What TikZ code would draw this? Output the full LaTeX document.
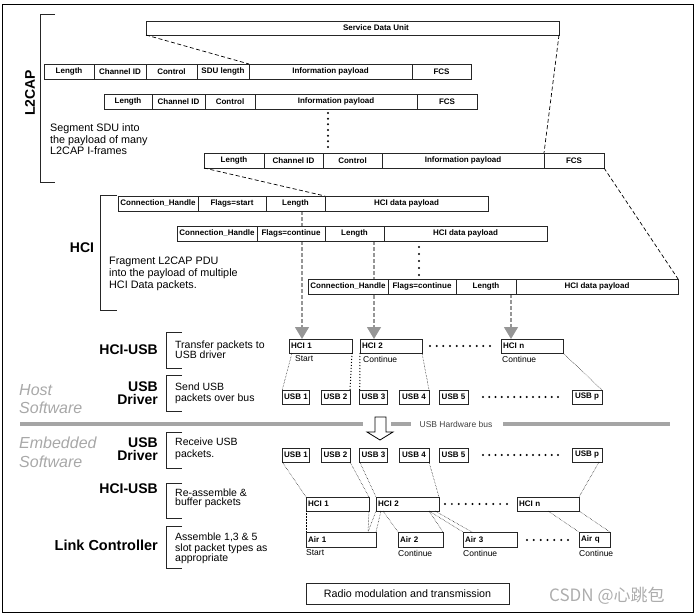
\documentclass[tikz,border=0pt]{standalone}
\usepackage{fontspec}
\setmainfont{Liberation Sans}
\newfontfamily\cjkfont{Noto Sans CJK SC}
\usetikzlibrary{arrows.meta}
\pgfdeclarelayer{back}
\pgfsetlayers{back,main}
\definecolor{busgray}{RGB}{165,165,165}
\definecolor{softgray}{RGB}{168,168,168}
\definecolor{arrgray}{RGB}{150,150,150}
\tikzset{
  cell/.style={draw=black!85, line width=0.9pt, inner xsep=2pt, inner ysep=0pt, outer sep=0pt,
    font=\bfseries\fontsize{8}{9}\selectfont, align=center, fill=white},
  lcell/.style={cell, align=left},
  desc/.style={anchor=west, inner sep=0pt, align=left},
  layer/.style={anchor=east, inner sep=0pt, align=right},
  soft/.style={anchor=west, inner sep=0pt, align=left, text=softgray},
  small/.style={anchor=west, inner sep=0pt, font=\fontsize{8.5}{9}\selectfont},
  bracket/.style={line width=0.9pt, black!85},
  mapline/.style={dash pattern=on 4pt off 2.5pt, line width=0.7pt},
  garrow/.style={draw=arrgray, line width=1.2pt, dash pattern=on 4pt off 2pt,
    -{Triangle[width=14pt,length=12pt,fill=arrgray]}},
  fine/.style={densely dotted, line width=0.5pt},
  thickdot/.style={dotted, line width=1pt},
  busline/.style={busgray, line width=3.5pt},
}
% centred cell
\newcommand\bx[6]{%
  \pgfmathsetmacro\bxw{#4-#2}\pgfmathsetmacro\bxh{#5-#3}%
  \pgfmathsetmacro\bxx{(#2+#4)/2}\pgfmathsetmacro\bxy{(#3+#5)/2}%
  \node[cell, minimum width=\bxw pt, minimum height=\bxh pt] (#1) at (\bxx,\bxy) {#6};}
% left-aligned cell
\newcommand\lbx[6]{%
  \pgfmathsetmacro\bxw{#4-#2}\pgfmathsetmacro\bxh{#5-#3}%
  \pgfmathsetmacro\bxt{#4-#2-4}%
  \pgfmathsetmacro\bxx{(#2+#4)/2}\pgfmathsetmacro\bxy{(#3+#5)/2}%
  \node[lcell, minimum width=\bxw pt, minimum height=\bxh pt, text width=\bxt pt] (#1) at (\bxx,\bxy) {#6};}
\newcommand\dotrow[4]{\foreach \i in {0,...,#4}{\fill ({#1+(#2-#1)*\i/#4},#3) circle (1.1pt);}}
\newcommand\dotcol[4]{\foreach \i in {0,...,#4}{\fill (#1,{#2+(#3-#2)*\i/#4}) circle (1.1pt);}}
\begin{document}
\begin{tikzpicture}[x=1pt,y=-1pt]
\useasboundingbox (0,0) rectangle (696,615);
\draw[line width=1pt] (2,5) rectangle (693,612);

% ---------------- L2CAP ----------------
\draw[bracket] (55,14) -- (40,14) -- (40,182) -- (55,182);
\node[rotate=90, inner sep=0pt, font=\bfseries\fontsize{14}{16}\selectfont] (l2caplabel) at (30,93) {L2CAP};
\node[desc, font=\fontsize{10.8}{11.5}\selectfont] (segtext) at (50,139.5) {Segment SDU into\\the payload of many\\L2CAP I-frames};

\bx{sdu}{146}{21}{559}{35}{}
\node[inner sep=0pt, font=\bfseries\fontsize{8}{9}\selectfont] (sdutext) at (376,28) {Service Data Unit};

\bx{r1len}{44}{64}{94}{79}{Length}
\bx{r1cid}{94}{64}{146}{79}{Channel ID}
\bx{r1ctl}{146}{64}{197}{79}{Control}
\bx{r1sdul}{197}{64}{249}{79}{SDU length}
\bx{r1info}{249}{64}{412}{79}{Information payload}
\bx{r1fcs}{412}{64}{471}{79}{FCS}

\bx{r2len}{104}{94}{152}{109}{Length}
\bx{r2cid}{152}{94}{205}{109}{Channel ID}
\bx{r2ctl}{205}{94}{255}{109}{Control}
\bx{r2info}{255}{94}{417}{109}{Information payload}
\bx{r2fcs}{417}{94}{477}{109}{FCS}

\dotcol{328}{113}{147}{6}

\bx{r3len}{204}{153}{264}{168}{Length}
\bx{r3cid}{264}{153}{323}{168}{Channel ID}
\bx{r3ctl}{323}{153}{382}{168}{Control}
\bx{r3info}{382}{153}{544}{168}{Information payload}
\bx{r3fcs}{544}{153}{604}{168}{FCS}

% ---------------- HCI ----------------
\draw[bracket] (117,195) -- (100,195) -- (100,310) -- (117,310);
\node[inner sep=0pt, font=\bfseries\fontsize{14}{16}\selectfont] (hcilabel) at (82,248) {HCI};
\node[desc, font=\fontsize{10.8}{12}\selectfont] (fragtext) at (109,274) {Fragment L2CAP PDU\\into the payload of multiple\\HCI Data packets.};

\bx{hr1ch}{118}{196}{198}{211}{Connection\_Handle}
\bx{hr1fl}{198}{196}{266}{211}{Flags=start}
\bx{hr1len}{266}{196}{325}{211}{Length}
\bx{hr1pay}{325}{196}{488}{211}{HCI data payload}

\bx{hr2ch}{177}{226}{257}{241}{Connection\_Handle}
\bx{hr2fl}{257}{226}{325}{241}{Flags=continue}
\bx{hr2len}{325}{226}{384}{241}{Length}
\bx{hr2pay}{384}{226}{547}{241}{HCI data payload}

\dotcol{419}{247}{275}{4}

\bx{hr3ch}{308}{279}{388}{294}{Connection\_Handle}
\bx{hr3fl}{388}{279}{456}{294}{Flags=continue}
\bx{hr3len}{456}{279}{516}{294}{Length}
\bx{hr3pay}{516}{279}{678}{294}{HCI data payload}

% mapping lines
\draw[mapline] (sdu.south west) -- (r1info.north west);
\draw[mapline] (sdu.south east) -- (r3info.north east);
\draw[mapline] (r3len.south west) -- (hr1pay.north west);
\draw[mapline] (r3fcs.south east) -- (hr3pay.north east);

% ---------------- Host ----------------
\node[layer, font=\bfseries\fontsize{14}{16}\selectfont] (hciusbh) at (158,350) {HCI-USB};
\draw[bracket] (182,332) -- (166,332) -- (166,368) -- (182,368);
\node[desc, font=\fontsize{10.5}{10}\selectfont] (transtext) at (175,350) {Transfer packets to\\USB driver};

\node[layer, font=\bfseries\fontsize{14}{12.5}\selectfont] (usbdrvh) at (158,393) {USB\\Driver};
\draw[bracket] (182,375) -- (166,375) -- (166,411) -- (182,411);
\node[desc, font=\fontsize{10.5}{11}\selectfont] (sendtext) at (175,393.5) {Send USB\\packets over bus};

\node[soft, font=\itshape\fontsize{16}{18}\selectfont] (hostsw) at (19,399) {Host\\Software};

\lbx{hci1h}{289}{339}{352}{353}{HCI 1}
\lbx{hci2h}{360}{339}{422}{353}{HCI 2}
\lbx{hcinh}{501}{339}{563}{353}{HCI n}
\dotrow{430}{490}{346}{9}
\node[small] (starth) at (295,359) {Start};
\node[small] (cont2h) at (363,359) {Continue};
\node[small] (contnh) at (502,359) {Continue};

\coordinate (t1) at ([xshift=13pt]hci1h.north west);
\coordinate (t2) at ([xshift=14pt]hci2h.north west);
\coordinate (t3) at ([xshift=10pt]hcinh.north west);
\begin{pgfonlayer}{back}
\draw[garrow] (hr1len.south -| t1) -- (t1);
\draw[garrow] (hr2len.south -| t2) -- (t2);
\draw[garrow] (hr3len.south -| t3) -- (t3);
\end{pgfonlayer}

\bx{usb1h}{283}{390}{309}{404}{USB 1}
\bx{usb2h}{321}{390}{350}{404}{USB 2}
\bx{usb3h}{360}{390}{387}{404}{USB 3}
\bx{usb4h}{399}{390}{429}{404}{USB 4}
\bx{usb5h}{439}{390}{468}{404}{USB 5}
\bx{usbph}{572}{390}{602}{404}{USB p}
\dotrow{483}{558}{397}{12}

\draw[fine] ([xshift=3pt]hci1h.south west) -- (usb1h.north west);
\draw[thickdot] (hci1h.south east) -- (usb2h.north east);
\draw[thickdot] (hci2h.south west) -- (usb3h.north west);
\draw[fine] (hci2h.south east) -- (usb4h.north east);
\draw[fine] (hcinh.south east) -- (usbph.north east);

% ---------------- USB hardware bus ----------------
\draw[busline] (20,424) -- (363,424);
\draw[busline] (391,424) -- (411,424);
\draw[busline] (503,424) -- (670,424);
\node[inner sep=0pt, text=black!75, font=\fontsize{8.5}{10}\selectfont] (bustext) at (456,424) {USB Hardware bus};
\draw[line width=0.8pt, fill=white] (375,417) -- (386,417) -- (386,432) -- (393,432) -- (380,440) -- (367,432) -- (375,432) -- cycle;

% ---------------- Embedded ----------------
\node[soft, font=\itshape\fontsize{16}{19}\selectfont] (embsw) at (19,452.5) {Embedded\\Software};

\node[layer, font=\bfseries\fontsize{14}{13}\selectfont] (usbdrve) at (158,449.5) {USB\\Driver};
\draw[bracket] (182,432) -- (166,432) -- (166,468) -- (182,468);
\node[desc, font=\fontsize{10.5}{12}\selectfont] (recvtext) at (175,449) {Receive USB\\packets.};

\node[layer, font=\bfseries\fontsize{14}{16}\selectfont] (hciusbe) at (158,489) {HCI-USB};
\draw[bracket] (182,483) -- (166,483) -- (166,518) -- (182,518);
\node[desc, font=\fontsize{10.5}{9.5}\selectfont] (reasmtext) at (175,498.5) {Re-assemble \&\\buffer packets};

\node[layer, font=\bfseries\fontsize{14.5}{16}\selectfont] (lclabel) at (158,545) {Link Controller};
\draw[bracket] (182,526) -- (166,526) -- (166,568) -- (182,568);
\node[desc, font=\fontsize{10.5}{10.5}\selectfont] (asmtext) at (175,548.5) {Assemble 1,3 \& 5\\slot packet types as\\appropriate};

\bx{usb1e}{283}{448}{309}{462}{USB 1}
\bx{usb2e}{321}{448}{350}{462}{USB 2}
\bx{usb3e}{360}{448}{387}{462}{USB 3}
\bx{usb4e}{399}{448}{429}{462}{USB 4}
\bx{usb5e}{439}{448}{468}{462}{USB 5}
\bx{usbpe}{572}{448}{602}{462}{USB p}
\dotrow{483}{558}{455}{12}

\lbx{hci1e}{306}{497}{369}{511}{HCI 1}
\lbx{hci2e}{376}{497}{439}{511}{HCI 2}
\lbx{hcine}{517}{497}{579}{511}{HCI n}
\dotrow{445}{507}{504}{9}

\lbx{air1}{306}{532}{376}{547}{Air 1}
\lbx{air2}{398}{532}{443}{547}{Air 2}
\lbx{air3}{463}{532}{517}{547}{Air 3}
\lbx{airq}{579}{532}{610}{547}{Air q}
\dotrow{527}{568}{540}{6}
\node[small] (starte) at (306,553) {Start};
\node[small] (cont2e) at (398,553) {Continue};
\node[small] (cont3e) at (463,553) {Continue};
\node[small] (contqe) at (579,553) {Continue};

\draw[fine] (usb1e.south west) -- (hci1e.north west);
\draw[fine] (usb2e.south east) -- (hci1e.north east);
\draw[fine] (usb3e.south west) -- (hci2e.north west);
\draw[fine] (usb4e.south east) -- (hci2e.north east);
\draw[fine] ([xshift=-3pt]usbpe.south east) -- (hcine.north east);

\coordinate (a1r) at ([xshift=-8pt]air1.north east);
\draw[fine] (hci1e.south west) -- (air1.north west);
\draw[fine] (hci1e.south east) -- (a1r);
\draw[fine] (hci2e.south west) -- (a1r);
\draw[fine] ([xshift=5pt]hci2e.south west) -- (air1.north east);
\draw[fine] ([xshift=7pt]hci2e.south west) -- (air2.north west);
\draw[fine] ([xshift=-10pt]hci2e.south east) -- (air2.north east);
\draw[fine] ([xshift=-10pt]hci2e.south east) -- (air3.north west);
\draw[fine] ([xshift=-4pt]hci2e.south east) -- ([xshift=9pt]air3.north west);
\draw[fine] ([xshift=31pt]hcine.south west) -- (airq.north west);
\draw[fine] (hcine.south east) -- (airq.north east);

\bx{radio}{306}{583}{509}{604}{\mdseries\fontsize{10.7}{12}\selectfont Radio modulation and transmission}

\node[anchor=west, inner sep=0pt, text=black!32, font=\cjkfont\fontsize{17}{20}\selectfont] (wm) at (549,596) {CSDN @心跳包};
\end{tikzpicture}
\end{document}
